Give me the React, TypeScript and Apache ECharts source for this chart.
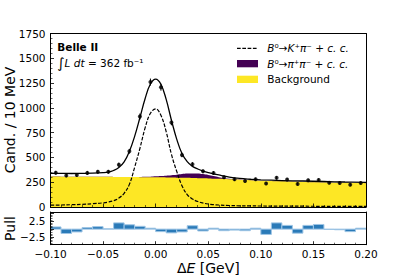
import React, { useEffect, useRef } from 'react';
import * as echarts from 'echarts';

// Fit curves sampled along ΔE [GeV]
const curveX = [-0.1, -0.09, -0.08, -0.07, -0.06, -0.05, -0.045, -0.04, -0.035, -0.03, -0.025, -0.02, -0.015, -0.01, -0.005, 0, 0.005, 0.01, 0.015, 0.02, 0.025, 0.03, 0.035, 0.04, 0.045, 0.05, 0.055, 0.06, 0.07, 0.08, 0.09, 0.1, 0.12, 0.14, 0.16, 0.18, 0.2];
const totalFit = [340, 339, 338, 339, 341, 346, 352, 368, 398, 455, 560, 712, 900, 1095, 1240, 1290, 1238, 1085, 875, 685, 540, 458, 410, 383, 362, 346, 335, 323, 302, 288, 280, 274, 267, 262, 257, 252, 248];
const signalKpi = [18, 20, 23, 27, 33, 42, 50, 64, 90, 138, 228, 400, 590, 800, 945, 990, 925, 760, 530, 360, 215, 125, 80, 55, 40, 30, 24, 20, 15, 12, 11, 10, 9, 8, 7, 7, 6];
const background = [307, 306, 306, 305, 305, 304, 304, 303, 303, 303, 302, 302, 301, 301, 300, 300, 299, 298, 297, 296, 295, 294, 292, 291, 289, 288, 286, 284, 280, 276, 271, 266, 259, 253, 248, 244, 240];
const pipiTop = [307, 306, 306, 305, 305, 304, 304, 303, 303, 303, 302, 303, 303, 305, 306, 309, 312, 316, 321, 326, 332, 337, 339, 339, 333, 324, 312, 301, 286, 277, 271, 266, 259, 253, 248, 244, 240];

// Data histogram (10 MeV bins)
const binCenters = [-0.095, -0.085, -0.075, -0.065, -0.055, -0.045, -0.035, -0.025, -0.015, -0.005, 0.005, 0.015, 0.025, 0.035, 0.045, 0.055, 0.065, 0.075, 0.085, 0.095, 0.105, 0.115, 0.125, 0.135, 0.145, 0.155, 0.165, 0.175, 0.185, 0.195];
const counts = [346, 318, 322, 344, 355, 355, 427, 562, 913, 1260, 1208, 853, 525, 431, 360, 343, 300, 279, 262, 279, 237, 294, 277, 233, 269, 273, 245, 242, 225, 243];
const countErr = [18.6, 17.8, 17.9, 18.5, 18.8, 18.8, 20.7, 23.7, 30.2, 35.5, 34.8, 29.2, 22.9, 20.8, 19.0, 18.5, 17.3, 16.7, 16.2, 16.7, 15.4, 17.1, 16.6, 15.3, 16.4, 16.5, 15.7, 15.6, 15.0, 15.6];
const pulls = [0.7, -1.4, -0.9, 0.5, 0.8, 0.1, 2.0, 1.4, 0.9, 0.3, -0.8, -1.2, -0.9, 1.1, -0.6, 0.3, -0.5, -0.3, -0.5, 0.3, -1.7, 2.0, 1.2, -1.3, 1.2, 1.5, -0.1, -0.2, -0.8, 0.3];
const halfBin = 0.005;

const FONT = 'DejaVu Sans';

export default function App() {
  const ref = useRef<HTMLDivElement>(null);
  useEffect(() => {
    if (!ref.current) return;
    const chart = echarts.init(ref.current, null, { renderer: 'svg' });
    const L = 50.5, W = 315.5;
    const frameAxis = { show: true, onZero: false, lineStyle: { color: '#000', width: 1 } };
    const tick = { show: true, inside: true, length: 3.5, lineStyle: { color: '#000', width: 0.8 } };
    const minor = { show: true, splitNumber: 5, length: 2, lineStyle: { color: '#000', width: 0.6 } };
    const fmtX = (v: number) => v.toFixed(2).replace('-', '\u2212');
    const pairs = (ys: number[]) => curveX.map((x, i) => [x, ys[i]]);
    const option: any = {
      animation: false,
      grid: [
        { left: L, top: 33.5, width: W, height: 173.5, show: false },
        { left: L, top: 212, width: W, height: 32.7, show: false },
      ],
      xAxis: [
        { gridIndex: 0, type: 'value', min: -0.1, max: 0.2, interval: 0.05, z: 10,
          axisLine: frameAxis, axisTick: tick, minorTick: minor, axisLabel: { show: false }, splitLine: { show: false } },
        { gridIndex: 0, type: 'value', position: 'top', min: -0.1, max: 0.2, z: 10,
          axisLine: frameAxis, axisTick: { show: false }, axisLabel: { show: false }, splitLine: { show: false } },
        { gridIndex: 1, type: 'value', min: -0.1, max: 0.2, interval: 0.05, z: 10,
          axisLine: frameAxis, axisTick: tick, minorTick: minor, splitLine: { show: false },
          axisLabel: { show: true, margin: 3.5, fontSize: 10.5, fontFamily: FONT, color: '#000', formatter: fmtX } },
        { gridIndex: 1, type: 'value', position: 'top', min: -0.1, max: 0.2, z: 10,
          axisLine: frameAxis, axisTick: { show: false }, axisLabel: { show: false }, splitLine: { show: false } },
      ],
      yAxis: [
        { gridIndex: 0, type: 'value', min: 0, max: 1750, interval: 250, z: 10,
          axisLine: frameAxis, axisTick: tick, minorTick: minor, splitLine: { show: false },
          axisLabel: { margin: 5, fontSize: 10.5, fontFamily: FONT, color: '#000', formatter: (v: number) => String(v) } },
        { gridIndex: 0, type: 'value', position: 'right', min: 0, max: 1750, z: 10,
          axisLine: frameAxis, axisTick: { show: false }, axisLabel: { show: false }, splitLine: { show: false } },
        { gridIndex: 1, type: 'value', min: -5, max: 5.5, interval: 2.5, z: 10,
          axisLine: frameAxis, axisTick: tick, minorTick: minor, splitLine: { show: false },
          axisLabel: { margin: 5, fontSize: 10.5, fontFamily: FONT, color: '#000',
            formatter: (v: number) => (Math.abs(Math.abs(v) - 2.5) < 1e-9 ? v.toFixed(1).replace('-', '\u2212') : '') } },
        { gridIndex: 1, type: 'value', position: 'right', min: -5, max: 5.5, z: 10,
          axisLine: frameAxis, axisTick: { show: false }, axisLabel: { show: false }, splitLine: { show: false } },
      ],
      series: [
        { name: 'B0→π+π− + c.c.', type: 'line', xAxisIndex: 0, yAxisIndex: 0, data: pairs(pipiTop), showSymbol: false,
          smooth: 0.4, lineStyle: { width: 0 }, areaStyle: { color: '#440154', opacity: 1 }, z: 1 },
        { name: 'Background', type: 'line', xAxisIndex: 0, yAxisIndex: 0, data: pairs(background), showSymbol: false,
          smooth: 0.4, lineStyle: { width: 0 }, areaStyle: { color: '#fde725', opacity: 1 }, z: 2 },
        { name: 'B0→K+π− + c.c.', type: 'line', xAxisIndex: 0, yAxisIndex: 0, data: pairs(signalKpi), showSymbol: false,
          smooth: 0.4, lineStyle: { color: '#000', width: 1.2, type: [3.7, 1.6] }, z: 3 },
        { name: 'Total fit', type: 'line', xAxisIndex: 0, yAxisIndex: 0, data: pairs(totalFit), showSymbol: false,
          smooth: 0.4, lineStyle: { color: '#000', width: 1.3 }, z: 4 },
        { name: 'errors', type: 'custom', xAxisIndex: 0, yAxisIndex: 0, z: 5,
          data: binCenters.map((x, i) => [x, counts[i], countErr[i]]),
          encode: { x: 0, y: 1 },
          renderItem: (_p: any, api: any) => {
            const x = api.value(0), y = api.value(1), e = api.value(2);
            const a = api.coord([x, y - e]);
            const b = api.coord([x, y + e]);
            return { type: 'line', shape: { x1: a[0], y1: a[1], x2: b[0], y2: b[1] }, style: { stroke: '#000', lineWidth: 1 } };
          } },
        { name: 'Data', type: 'scatter', xAxisIndex: 0, yAxisIndex: 0, data: binCenters.map((x, i) => [x, counts[i]]),
          symbolSize: 4, itemStyle: { color: '#000' }, z: 6 },
        { name: 'Pull', type: 'custom', xAxisIndex: 2, yAxisIndex: 2, z: 3,
          data: binCenters.map((x, i) => [x, pulls[i]]),
          encode: { x: 0, y: 1 },
          renderItem: (_p: any, api: any) => {
            const c = api.value(0), v = api.value(1);
            const a = api.coord([c - halfBin, v]);
            const b = api.coord([c + halfBin, 0]);
            return { type: 'rect', shape: { x: a[0], y: Math.min(a[1], b[1]), width: b[0] - a[0], height: Math.abs(b[1] - a[1]) },
              style: { fill: '#2a7ab8', stroke: '#9ec5e5', lineWidth: 1 } };
          } },
      ],
      graphic: [
        { type: 'text', x: 10, y: 120, rotation: Math.PI / 2,
          style: { text: 'Cand. / 10 MeV', fontSize: 14, fontFamily: FONT, fill: '#000', align: 'center', verticalAlign: 'middle' } },
        { type: 'text', x: 10, y: 228.5, rotation: Math.PI / 2,
          style: { text: 'Pull', fontSize: 14, fontFamily: FONT, fill: '#000', align: 'center', verticalAlign: 'middle' } },
        { type: 'text', x: 208.3, y: 267.5,
          style: { text: '{n|Δ}{i|E}{n| [GeV]}', align: 'center', verticalAlign: 'middle', fill: '#000',
            rich: { n: { fontSize: 14, fontFamily: FONT }, i: { fontSize: 14, fontFamily: FONT, fontStyle: 'italic' } } } },
        { type: 'text', x: 57.3, y: 46.7,
          style: { text: 'Belle II', fontSize: 10.5, fontWeight: 'bold', fontFamily: FONT, fill: '#000', verticalAlign: 'middle' } },
        { type: 'text', x: 57.3, y: 63,
          style: { text: '{int|∫}{i|L}{n| }{i|dt}{n| = 362 fb⁻¹}', verticalAlign: 'middle', fill: '#000',
            rich: { int: { fontSize: 14, fontFamily: FONT }, n: { fontSize: 10.5, fontFamily: FONT },
              i: { fontSize: 10.5, fontFamily: FONT, fontStyle: 'italic' } } } },
        { type: 'line', shape: { x1: 237, y1: 48.3, x2: 258, y2: 48.3 },
          style: { stroke: '#000', lineWidth: 1.2, lineDash: [3.7, 1.6] } },
        { type: 'rect', shape: { x: 237, y: 60, width: 21, height: 7.3 }, style: { fill: '#440154' } },
        { type: 'rect', shape: { x: 237, y: 75.7, width: 21, height: 7.3 }, style: { fill: '#fde725' } },
        { type: 'text', x: 267.3, y: 48.3,
          style: { text: '{i|B}{n|⁰→}{i|K}{n|⁺}{i|π}{n|⁻ + }{i|c. c.}', verticalAlign: 'middle', fill: '#000',
            rich: { n: { fontSize: 10.5, fontFamily: FONT }, i: { fontSize: 10.5, fontFamily: FONT, fontStyle: 'italic' } } } },
        { type: 'text', x: 267.3, y: 63.5,
          style: { text: '{i|B}{n|⁰→}{i|π}{n|⁺}{i|π}{n|⁻ + }{i|c. c.}', verticalAlign: 'middle', fill: '#000',
            rich: { n: { fontSize: 10.5, fontFamily: FONT }, i: { fontSize: 10.5, fontFamily: FONT, fontStyle: 'italic' } } } },
        { type: 'text', x: 267.3, y: 79,
          style: { text: 'Background', fontSize: 10.5, fontFamily: FONT, fill: '#000', verticalAlign: 'middle' } },
      ],
    };
    chart.setOption(option);
    return () => chart.dispose();
  }, []);
  return <div ref={ref} style={{ position: 'absolute', left: 0, top: 0, width: 407, height: 280 }} />;
}
